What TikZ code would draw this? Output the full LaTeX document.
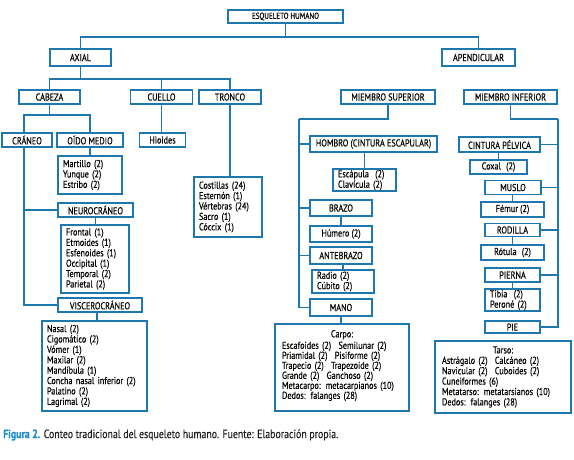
\documentclass[tikz,border=0pt]{standalone}
\usepackage{fontspec}
\setmainfont[FakeStretch=0.82, FakeBold=0.3]{PT Sans}
\definecolor{ln}{RGB}{30,120,175}
\definecolor{capblue}{RGB}{25,140,205}
\definecolor{captext}{RGB}{35,31,32}
\begin{document}
\begin{tikzpicture}[x=1pt,y=-1pt,
  box/.style={draw=ln, line width=1.1pt, inner sep=0pt, text=black,
    font=\fontsize{10}{10.4}\selectfont},
  lbox/.style={box, align=left, inner xsep=5pt},
  conn/.style={draw=ln, line width=1.1pt}]
\useasboundingbox (0,0) rectangle (574,459);
% level 0-1
\node[box, minimum width=115pt, minimum height=13pt, font=\fontsize{8.6}{10}\selectfont] (esq) at (285.5,16.5) {ESQUELETO HUMANO};
\node[box, minimum width=61pt, minimum height=17pt] (axial) at (80.5,57.5) {AXIAL};
\node[box, minimum width=73pt, minimum height=17pt] (apend) at (478.5,57.5) {APENDICULAR};
% level 2
\node[box, minimum width=61pt, minimum height=14pt] (cabeza) at (49.5,97) {CABEZA};
\node[box, minimum width=62pt, minimum height=14pt] (cuello) at (161.5,97) {CUELLO};
\node[box, minimum width=62pt, minimum height=14pt] (tronco) at (230,97) {TRONCO};
\node[box, minimum width=94pt, minimum height=14pt] (msup) at (388,97) {MIEMBRO SUPERIOR};
\node[box, minimum width=93pt, minimum height=14pt] (minf) at (510.5,97) {MIEMBRO INFERIOR};
% axial side
\node[box, minimum width=50pt, minimum height=14pt] (craneo) at (27,140) {CRÁNEO};
\node[box, minimum width=66pt, minimum height=14pt] (oido) at (90,140) {OÍDO MEDIO};
\node[box, minimum width=46pt, minimum height=14pt] (hioides) at (162.5,140) {Hioides};
\node[lbox, text width=54pt, minimum height=38pt] (martillo) at (90,175) {Martillo (2)\\Yunque (2)\\Estribo (2)};
\node[lbox, text width=58pt, minimum height=60pt] (costillas) at (228,207) {Costillas (24)\\Esternón (1)\\Vértebras (24)\\Sacro (1)\\Cóccix (1)};
\node[box, minimum width=75pt, minimum height=14pt] (neuro) at (95.5,210) {NEUROCRÁNEO};
\node[lbox, text width=58pt, minimum height=68pt] (frontal) at (95,259) {Frontal (1)\\Etmoides (1)\\Esfenoides (1)\\Occipital (1)\\Temporal (2)\\Parietal (2)};
\node[box, minimum width=84pt, minimum height=14pt] (viscero) at (100,305) {VISCEROCRÁNEO};
\node[lbox, text width=95pt, minimum height=90pt] (nasal) at (94.5,366) {Nasal (2)\\Cigomático (2)\\Vómer (1)\\Maxilar (2)\\Mandíbula (1)\\Concha nasal inferior (2)\\Palatino (2)\\Lagrimal (2)};
% miembro superior
\node[box, minimum width=127pt, minimum height=16pt] (hombro) at (373.5,144) {HOMBRO (CINTURA ESCAPULAR)};
\node[lbox, text width=53pt, minimum height=22pt] (escapula) at (364.5,180) {Escápula\hspace{3pt} (2)\\Clavícula (2)};
\node[box, minimum width=62pt, minimum height=16pt] (brazo) at (341,208) {BRAZO};
\node[box, minimum width=62pt, minimum height=16pt] (humero) at (341,234) {Húmero (2)};
\node[box, minimum width=62pt, minimum height=17pt] (antebrazo) at (341,255.5) {ANTEBRAZO};
\node[lbox, text width=52pt, minimum height=23pt] (radio) at (343,281.5) {Radio (2)\\Cúbito (2)};
\node[box, minimum width=62pt, minimum height=17pt] (mano) at (341,307.5) {MANO};
\node[lbox, inner xsep=7pt, text width=120pt, minimum height=87pt, font=\fontsize{10}{10}\selectfont] (carpo) at (342,367.5) {\makebox[\hsize][c]{Carpo:}\\[1.5pt]Escafoides (2)\hspace{4pt} Semilunar (2)\\Priamidal (2)\hspace{4pt} Pisiforme (2)\\Trapecio (2)\hspace{4pt} Trapezoide (2)\\Grande (2)\hspace{4pt} Ganchoso (2)\\Metacarpo: metacarpianos (10)\\Dedos: falanges (28)\\[-4pt]\mbox{}};
% miembro inferior
\node[box, minimum width=81pt, minimum height=15pt] (cintura) at (499.5,144.5) {CINTURA PÉLVICA};
\node[box, minimum width=57pt, minimum height=14pt] (coxal) at (498.5,167) {Coxal\hspace{3pt} (2)};
\node[box, minimum width=56pt, minimum height=14pt] (muslo) at (513,187.5) {MUSLO};
\node[box, minimum width=63pt, minimum height=15pt] (femur) at (512.5,209.5) {Fémur (2)};
\node[box, minimum width=55pt, minimum height=13pt] (rodilla) at (512.5,230) {RODILLA};
\node[box, minimum width=63pt, minimum height=15pt] (rotula) at (512.5,252.5) {Rótula\hspace{3pt} (2)};
\node[box, minimum width=55pt, minimum height=14pt] (pierna) at (512.5,275) {PIERNA};
\node[lbox, text width=45pt, minimum height=22pt] (tibia) at (512.5,300) {Tibia\hspace{3pt} (2)\\Peroné (2)};
\node[box, minimum width=55pt, minimum height=12pt] (pie) at (512.5,327) {PIE};
\node[lbox, inner xsep=7pt, text width=122pt, minimum height=72pt] (tarso) at (503,377) {\makebox[\hsize][c]{Tarso:}\\Astrágalo (2)\hspace{4pt} Calcáneo (2)\\Navicular (2)\hspace{4pt} Cuboides (2)\\Cuneiformes (6)\\Metatarso: metatarsianos (10)\\Dedos: falanges (28)};
% connectors
\coordinate (b0) at (285.5,37);
\draw[conn] (esq.south) -- (b0);
\draw[conn] (axial.north) |- (b0);
\draw[conn] (apend.north) |- (b0);
\coordinate (b1) at (80.5,79);
\draw[conn] (axial.south) -- (b1);
\draw[conn] (cabeza.north) |- (b1);
\draw[conn] (cuello.north) |- (b1);
\draw[conn] (tronco.north) |- (b1);
\coordinate (b2) at (49.5,115);
\draw[conn] (cabeza.south) -- (b2);
\draw[conn] ([xshift=-3pt]craneo.north) |- (b2);
\draw[conn] (oido.north) |- (b2);
\draw[conn] (cuello.south) -- (cuello.south |- hioides.north);
\draw[conn] (tronco.south) -- (tronco.south |- costillas.north);
\draw[conn] (oido.south) -- (oido.south |- martillo.north);
\draw[conn] ([xshift=-3pt]craneo.south) |- (neuro.west);
\draw[conn] ([xshift=-3pt]craneo.south) |- (viscero.west);
\draw[conn] (neuro.south) -- (neuro.south |- frontal.north);
\coordinate (vn) at ([xshift=-3pt]viscero.south);
\draw[conn] (vn) -- (vn |- nasal.north);
\coordinate (b3) at (299,119);
\draw[conn] (msup.south) |- (b3);
\draw[conn] (b3) |- (hombro.west);
\draw[conn] (b3) |- (brazo.west);
\draw[conn] (b3) |- (antebrazo.west);
\draw[conn] (b3) |- (mano.west);
\draw[conn] (escapula.north) -- (escapula.north |- hombro.south);
\draw[conn] (brazo.south) -- (brazo.south |- humero.north);
\draw[conn] (radio.north) -- (radio.north |- antebrazo.south);
\draw[conn] (mano.south) -- (mano.south |- carpo.north);
\coordinate (b4) at (558,119);
\draw[conn] (minf.south) |- (b4);
\draw[conn] (b4) |- (cintura.east);
\draw[conn] (b4) |- (muslo.east);
\draw[conn] (b4) |- (rodilla.east);
\draw[conn] (b4) |- (pierna.east);
\draw[conn] (b4) |- (pie.east);
\draw[conn] (coxal.north) -- (coxal.north |- cintura.south);
\draw[conn] (femur.north) -- (femur.north |- muslo.south);
\draw[conn] (rotula.north) -- (rotula.north |- rodilla.south);
\draw[conn] (tibia.north) -- (tibia.north |- pierna.south);
% caption
\node[anchor=west, inner sep=0pt, text=captext, font=\fontsize{12}{14}\selectfont] (cap) at (3,435) {\textcolor{capblue}{\bfseries Figura 2.} Conteo tradicional del esqueleto humano. Fuente: Elaboración propia.};
\end{tikzpicture}
\end{document}
